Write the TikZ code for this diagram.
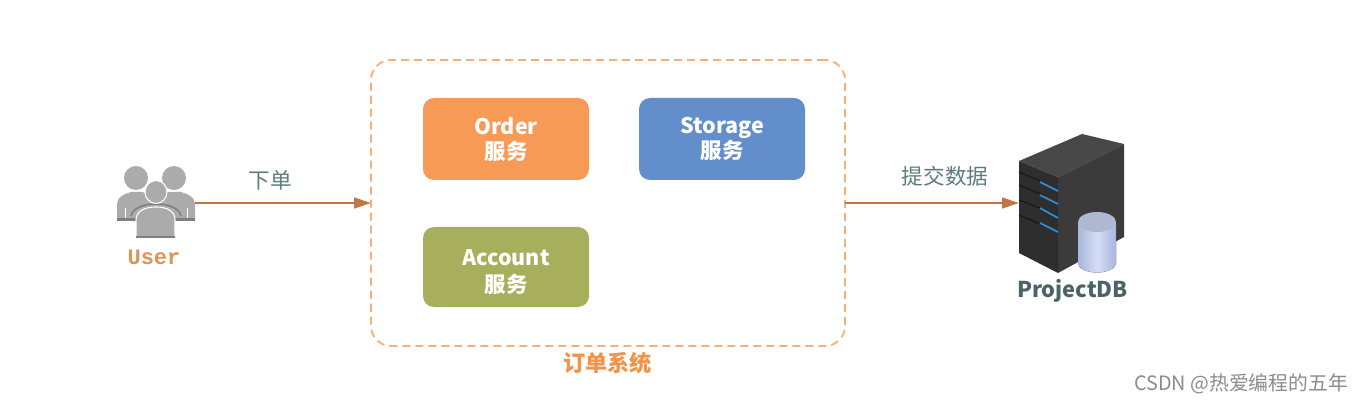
\documentclass[tikz,border=0pt]{standalone}
\usepackage{fontspec}
\setmainfont{Noto Sans CJK SC}
\newfontfamily\monof{Liberation Mono}
\usetikzlibrary{arrows.meta,shapes.geometric}
\definecolor{arrowc}{HTML}{BF774A}
\definecolor{dashc}{HTML}{F8AE78}
\definecolor{labelc}{HTML}{5E7C80}
\definecolor{orderc}{HTML}{F79A55}
\definecolor{storagec}{HTML}{628FCB}
\definecolor{accountc}{HTML}{A8AF5C}
\definecolor{personc}{HTML}{ABABAB}
\definecolor{persond}{HTML}{7F7F7F}
\definecolor{ledc}{HTML}{2E8FDC}
\definecolor{sysc}{HTML}{F2934A}
\definecolor{userc}{HTML}{DB9558}
\definecolor{cyltop}{HTML}{AEB8D0}
\definecolor{cylside}{HTML}{A9B6DC}
\definecolor{cylmid}{HTML}{D4DDF5}
\tikzset{
  svcbox/.style={rounded corners=11pt,minimum width=166pt,minimum height=#1,inner sep=0pt,outer sep=0pt,text=white,font=\fontsize{21.5}{25}\selectfont\bfseries,align=center},
  flow/.style={draw=arrowc,line width=1.3pt,-{Triangle[length=17pt,width=11pt]}},
  flowlabel/.style={text=labelc,font=\fontsize{21.6}{25}\selectfont,inner sep=0pt},
  person/.style={fill=personc,draw=none},
  ring/.style={fill=personc,draw=white,line width=1.1pt},
  slat/.style={draw=black!90,line width=1.3pt},
  led/.style={draw=ledc,line width=1.7pt},
  anchorbox/.style={inner sep=0pt,outer sep=0pt,minimum width=#1}
}
\begin{document}
\begin{tikzpicture}[x=1pt,y=-1pt]
\useasboundingbox[fill=white] (0,0) rectangle (1362,403);

% system frame
\node[draw=dashc,line width=1.8pt,dash pattern=on 8pt off 5pt,rounded corners=20pt,minimum width=474pt,minimum height=286pt,inner sep=0pt,outer sep=0pt] (sys) at (608,203) {};
\node[text=sysc,font=\fontsize{22.2}{25}\selectfont\bfseries,inner sep=0pt] (syslabel) at (607.5,363) {订单系统};

% services
\node[svcbox=82pt,fill=orderc] (order) at (506,139) {Order\\[0pt]服务};
\node[svcbox=82pt,fill=storagec] (storage) at (722,139) {Storage\\[0pt]服务};
\node[svcbox=80pt,fill=accountc] (account) at (506,267) {\rule{0pt}{27pt}Account\\[2pt]服务};

% user icon
\fill[person] (117,212) -- (117,204) .. controls (117,197) and (124,194) .. (131,192) -- (142,192) .. controls (150,194) and (156,198) .. (156,204) -- (156,221) -- (117,221) -- cycle;
\fill[person] (195,212) -- (195,204) .. controls (195,197) and (188,194) .. (181,192) -- (168,192) .. controls (160,194) and (156,198) .. (156,204) -- (156,221) -- (195,221) -- cycle;
\fill[persond] (117,218) rectangle (195,221);
\fill[person] (136,178) circle[radius=12pt];
\fill[person] (174,178) circle[radius=12pt];
\draw[white,line width=1pt] (125,208) -- (125,218) (187,208) -- (187,218);
\draw[persond,line width=1.5pt] (131,216) .. controls (133,208) and (143,204) .. (156,204) .. controls (169,204) and (179,208) .. (181,216);
\draw[ring] (136,238) -- (136,220) .. controls (136,211) and (145,207) .. (156,207) .. controls (167,207) and (175,211) .. (175,220) -- (175,238) -- cycle;
\draw[ring] (156,192) ellipse[x radius=11pt,y radius=11.5pt];
\fill[persond] (136,236.5) rectangle (175,238);
\node[anchorbox=78pt,minimum height=71pt] (user) at (156,203) {};
\node[text=userc,font=\monof\fontsize{22}{25}\selectfont\bfseries,inner sep=0pt] (userlabel) at (154,257) {User};

% server icon
\fill[black!77] (1058,177) -- (1124,144) -- (1124,237) -- (1058,273) -- cycle;
\fill[black!72] (1082,134) -- (1124,144) -- (1058,177) -- (1019,161) -- cycle;
\fill[black!82] (1019,161) -- (1058,177) -- (1058,273) -- (1019,253) -- cycle;
\draw[slat] (1019,172) -- (1040,181);
\draw[slat] (1019,185) -- (1045,196);
\draw[slat] (1019,200) -- (1045,210);
\draw[slat] (1019,215) -- (1045,226);
\draw[led] (1040,182) -- (1058,191);
\draw[led] (1040,195) -- (1058,204);
\draw[led] (1040,208) -- (1058,218);
\draw[led] (1040,223) -- (1058,232);
\node[anchorbox=105pt,minimum height=140pt] (db) at (1071.5,203) {};
\fill[left color=cylside,right color=cylside,middle color=cylmid] (1078,222) -- (1078,263) arc[start angle=180,end angle=360,x radius=19pt,y radius=9.5pt] -- (1116,222) -- cycle;
\fill[cyltop] (1097,222) ellipse[x radius=19pt,y radius=10pt];
\node[text=labelc!80!black,font=\fontsize{21.8}{25}\selectfont\bfseries,inner sep=0pt] (dblabel) at (1072.5,291) {ProjectDB};

% connectors
\draw[flow] (user.east) -- (sys.west);
\draw[flow] (sys.east) -- (db.west);
\node[flowlabel] (lab1) at (270,180) {下单};
\node[flowlabel] (lab2) at (945,176) {提交数据};

% watermark
\node[text=black!45,font=\fontsize{19.8}{22}\selectfont,inner sep=0pt] (mark) at (1241,384) {CSDN @热爱编程的五年};
\end{tikzpicture}
\end{document}
